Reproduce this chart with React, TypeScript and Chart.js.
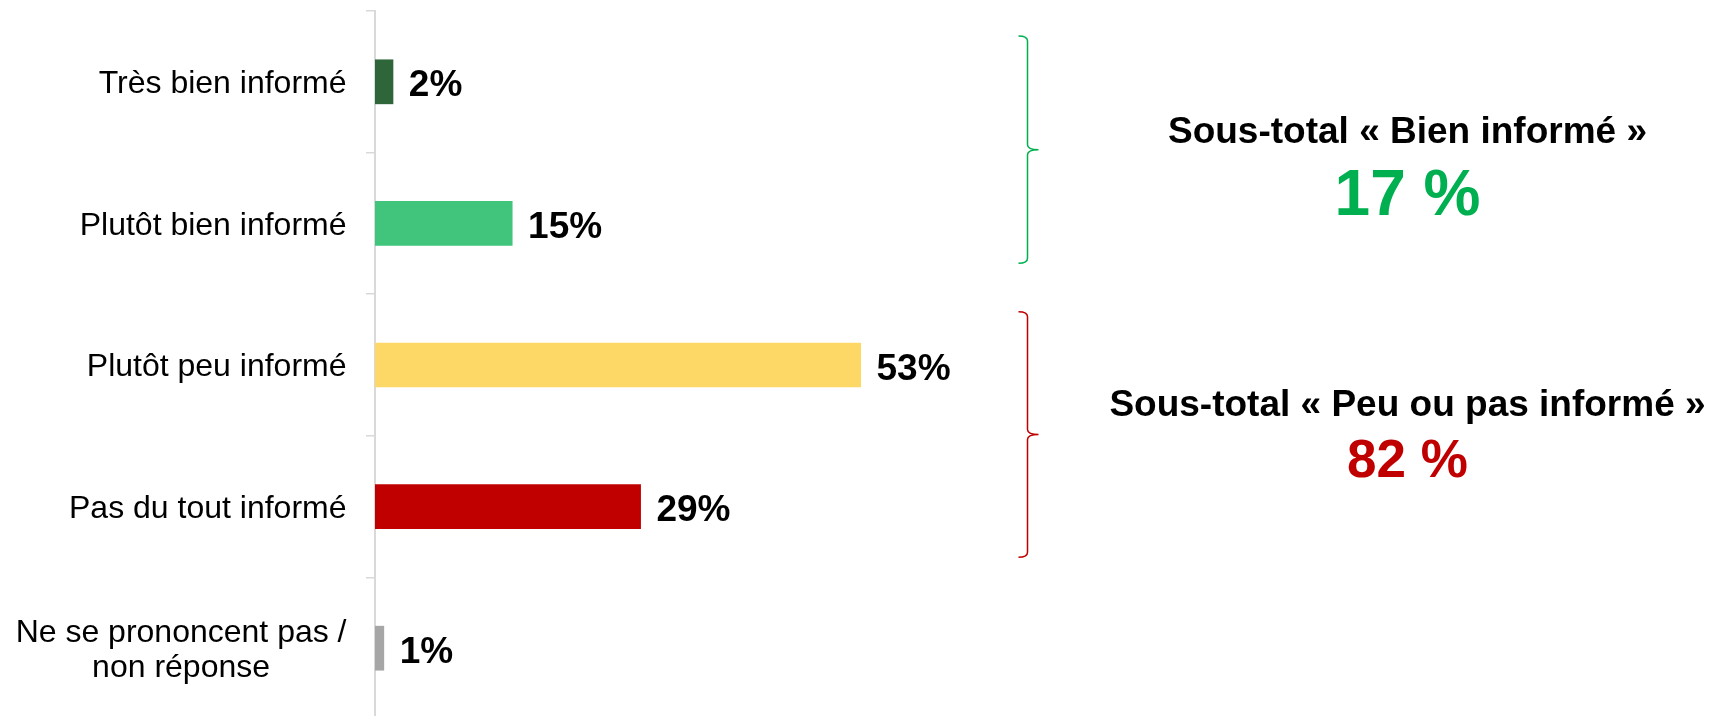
import React, { useEffect, useRef } from "react";
import { Chart, registerables } from "chart.js";

Chart.register(...registerables);

// ---- Data ----
const categories: string[][] = [
  ["Très bien informé"],
  ["Plutôt bien informé"],
  ["Plutôt peu informé"],
  ["Pas du tout informé"],
  ["Ne se prononcent pas /", "non réponse"],
];
const values = [2, 15, 53, 29, 1];
const valueLabels = ["2%", "15%", "53%", "29%", "1%"];
const barColors = ["#2E663A", "#41C47C", "#FED866", "#C00000", "#A6A6A6"];

const subtotalTitles = ["Sous-total « Bien informé »", "Sous-total « Peu ou pas informé »"];
const subtotalValues = ["17 %", "82 %"];
const subtotalColors = ["#00B050", "#C00000"];
const subtotalRanges = [
  [0, 1],
  [2, 3],
];

// ---- Styles ----
const FONT = '"Liberation Sans", Arial, Helvetica, sans-serif';
const braceInsets = [
  [0.323, 0.282],
  [0.376, 0.358],
];
const subtotalLayout = [
  { titleDy: -6.7, valueDy: 65.3, valueSize: 64 },
  { titleDy: -18.5, valueDy: 42.8, valueSize: 53 },
];

const overlayPlugin = {
  id: "overlay",
  afterDatasetsDraw(chart: any) {
    const ctx: CanvasRenderingContext2D = chart.ctx;
    const y = chart.scales.y;
    const area = chart.chartArea;
    ctx.save();

    // Category labels
    ctx.font = `32px ${FONT}`;
    ctx.fillStyle = "#000";
    ctx.textBaseline = "alphabetic";
    ctx.textAlign = "center";
    const rightX = area.left - 28.5;
    const lh = 34.3;
    categories.forEach((lines, i) => {
      const cy = y.getPixelForValue(i);
      const maxW = Math.max(...lines.map((l) => ctx.measureText(l).width));
      lines.forEach((line, j) => {
        const ly = cy + 11.4 + (j - (lines.length - 1) / 2) * lh;
        ctx.fillText(line, rightX - maxW / 2, ly);
      });
    });

    // Value labels
    ctx.font = `bold 37px ${FONT}`;
    ctx.textAlign = "left";
    const meta = chart.getDatasetMeta(0);
    meta.data.forEach((bar: any, i: number) => {
      ctx.fillText(valueLabels[i], bar.x + 15.5, bar.y + 14.5);
    });

    // Braces and subtotals
    const step = y.getPixelForValue(1) - y.getPixelForValue(0);
    const bx = area.right - 264.5;
    subtotalRanges.forEach((rng, g) => {
      const top = y.getPixelForValue(rng[0]) - braceInsets[g][0] * step;
      const bottom = y.getPixelForValue(rng[1]) + braceInsets[g][1] * step;
      const mid = (top + bottom) / 2;
      ctx.strokeStyle = subtotalColors[g];
      ctx.lineWidth = 1.5;
      ctx.beginPath();
      ctx.moveTo(bx - 9, top);
      ctx.quadraticCurveTo(bx, top, bx, top + 5);
      ctx.lineTo(bx, mid - 5);
      ctx.quadraticCurveTo(bx, mid, bx + 11, mid);
      ctx.quadraticCurveTo(bx, mid, bx, mid + 5);
      ctx.lineTo(bx, bottom - 5);
      ctx.quadraticCurveTo(bx, bottom, bx - 9, bottom);
      ctx.stroke();

      const tx = bx + 380;
      const lay = subtotalLayout[g];
      ctx.textAlign = "center";
      ctx.textBaseline = "alphabetic";
      ctx.fillStyle = "#000";
      ctx.font = `bold 37px ${FONT}`;
      ctx.fillText(subtotalTitles[g], tx, mid + lay.titleDy);
      ctx.fillStyle = subtotalColors[g];
      ctx.font = `bold ${lay.valueSize}px ${FONT}`;
      ctx.fillText(subtotalValues[g], tx, mid + lay.valueDy);
    });

    ctx.restore();
  },
};

export default function App() {
  const canvasRef = useRef<HTMLCanvasElement | null>(null);

  useEffect(() => {
    const canvas = canvasRef.current;
    if (!canvas) return;
    const chart = new Chart(canvas, {
      type: "bar",
      data: {
        labels: categories.map((c) => c.join(" ")),
        datasets: [
          {
            data: values,
            backgroundColor: barColors,
            barPercentage: 0.316,
            categoryPercentage: 1,
          },
        ],
      },
      options: {
        indexAxis: "y",
        animation: false,
        responsive: false,
        devicePixelRatio: 1,
        layout: { padding: { top: 11, bottom: 11, left: 0, right: 433 } },
        plugins: { legend: { display: false }, tooltip: { enabled: false } },
        scales: {
          x: { display: false, min: 0, max: 100 },
          y: {
            grid: {
              offset: true,
              drawOnChartArea: false,
              drawTicks: true,
              tickLength: 9,
              color: "#D9D9D9",
              lineWidth: 1.5,
            },
            border: { display: true, color: "#D9D9D9", width: 2 },
            ticks: { display: false },
            afterFit: (s: any) => {
              s.width = 375;
            },
          },
        },
      } as any,
      plugins: [overlayPlugin],
    });
    return () => chart.destroy();
  }, []);

  return (
    <div
      style={{
        position: "absolute",
        left: 0,
        top: 0,
        width: 1725,
        height: 716,
        overflow: "hidden",
        background: "#fff",
      }}
    >
      <canvas
        ref={canvasRef}
        width={1725}
        height={730}
        style={{ width: "1725px", height: "730px", display: "block" }}
      />
    </div>
  );
}
